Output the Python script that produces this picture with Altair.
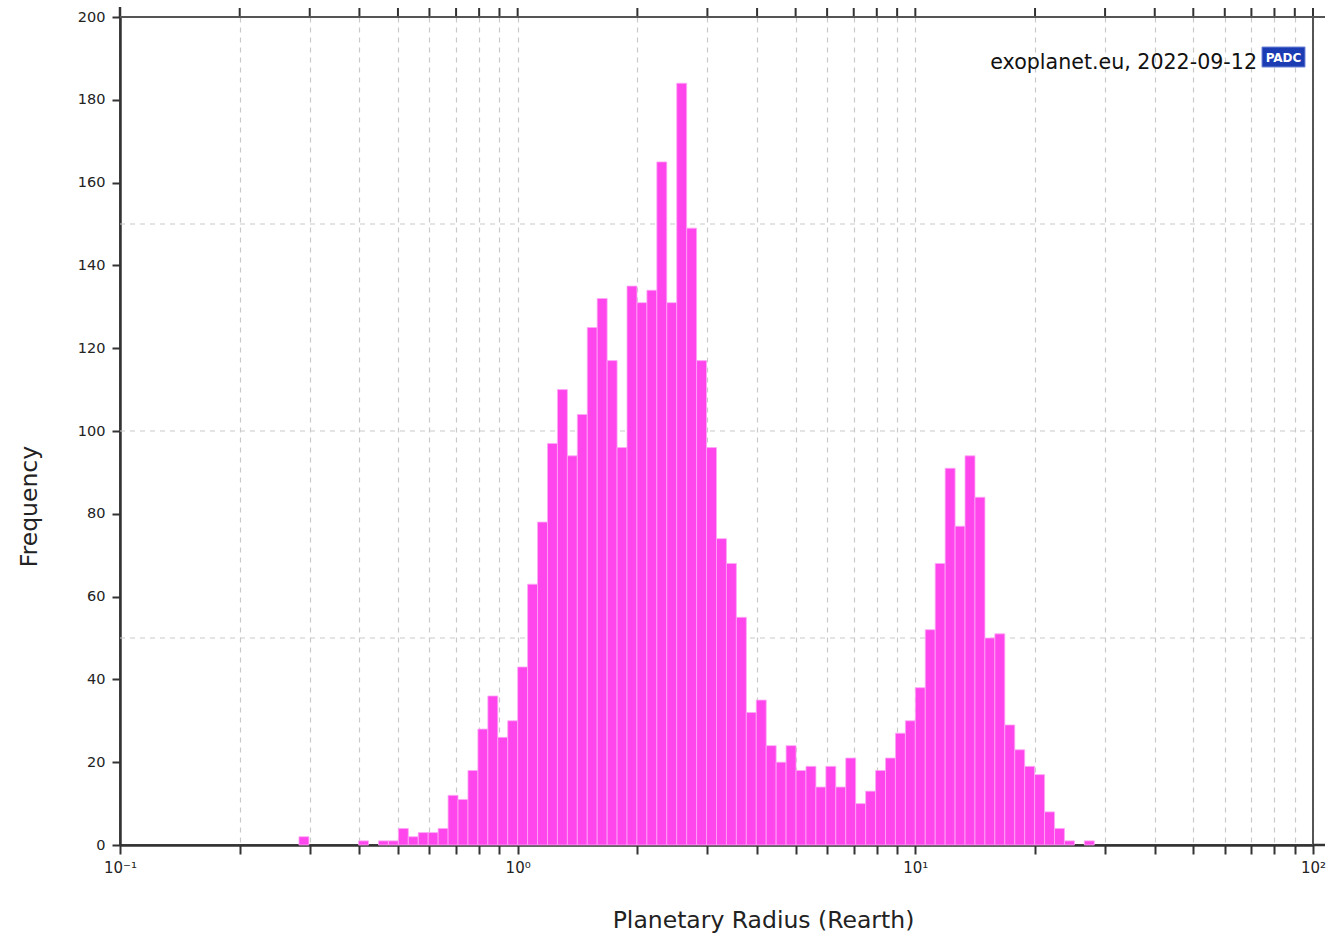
import altair as alt
import pandas as pd

# ---- data ----
# histogram bins: equal width in log10(R), edges at 10**(LOG_START + BIN_DEX*k)
LOG_START = -1.0
BIN_DEX = 0.025
bin_index = list(range(18, 98))
counts = [2, 0, 0, 0, 0, 0, 1, 0, 1, 1, 4, 2,
          3, 3, 4, 12, 11, 18, 28, 36, 26, 30,
          43, 63, 78, 97, 110, 94, 104, 125, 132, 117, 96, 135, 131, 134, 165, 131,
          184, 149, 117, 96, 74, 68,
          55, 32, 35, 24, 20, 24, 18, 19, 14, 19, 14, 21, 10, 13, 18, 21, 27, 30,
          38, 52, 68, 91, 77, 94, 84, 50, 51, 29, 23, 19, 17, 8, 4, 1, 0, 1]

x_ticks = [0.1, 0.2, 0.3, 0.4, 0.5, 0.6, 0.7, 0.8, 0.9,
           1, 2, 3, 4, 5, 6, 7, 8, 9,
           10, 20, 30, 40, 50, 60, 70, 80, 90, 100]
x_major = [0.1, 1, 10, 100]
x_major_labels = ["10⁻¹", "10⁰", "10¹", "10²"]
y_ticks = [0, 20, 40, 60, 80, 100, 120, 140, 160, 180, 200]
y_grid = [50, 100, 150]
x_title = "Planetary Radius (Rearth)"
y_title = "Frequency"
source_label = "exoplanet.eu, 2022-09-12"
logo_label = "PADC"

W, H = 1193, 828
FONT = "DejaVu Sans"
AX = "#333333"
GRID = "#c9c9c9"

lo = [10 ** (LOG_START + BIN_DEX * k) for k in bin_index]
hi = [10 ** (LOG_START + BIN_DEX * (k + 1)) for k in bin_index]
df = pd.DataFrame({"lo": lo, "hi": hi, "count": counts})
df = df[df["count"] > 0]

label_expr = " : ".join(
    f"datum.value == {v} ? '{t}'" for v, t in zip(x_major, x_major_labels)
) + " : ''"

scale_x = alt.Scale(type="log", domain=[0.1, 100], nice=False)
scale_y = alt.Scale(domain=[0, 200], nice=False)

x_axis = alt.Axis(
    values=x_ticks, labelExpr=label_expr,
    grid=True, gridDash=[5, 5], gridColor=GRID, gridWidth=1.2,
    domainColor=AX, domainWidth=2.5, tickColor=AX, tickWidth=2, tickSize=9,
    labelFont=FONT, labelFontSize=15, labelColor="#222", labelPadding=6,
    labelFlush=False, labelOverlap=False, labelBound=False,
    titleFont=FONT, titleFontSize=23.5, titleFontWeight="normal", titleColor="#222",
    titleX=643, titleY=82, titleAlign="center", titleBaseline="alphabetic")
y_axis = alt.Axis(
    values=y_ticks, grid=False,
    domainColor=AX, domainWidth=2.5, tickColor=AX, tickWidth=2, tickSize=8,
    labelFont=FONT, labelFontSize=14.5, labelColor="#222", labelPadding=7,
    labelOverlap=False, labelFlush=False, labelBound=False,
    titleFont=FONT, titleFontSize=23.5, titleFontWeight="normal", titleColor="#222",
    titleX=-84, titleY=489, titleAngle=270, titleAlign="center",
    titleBaseline="alphabetic")

bars = alt.Chart(df).mark_rect(
    fill="#ff46ec", stroke="#ffa8f6", strokeWidth=0.8
).encode(
    x=alt.X("lo:Q", scale=scale_x, axis=x_axis, title=x_title),
    x2="hi:Q",
    y=alt.Y("count:Q", scale=scale_y, axis=y_axis, title=y_title),
    y2=alt.datum(0),
)

hgrid = alt.Chart(pd.DataFrame({"g": y_grid})).mark_rule(
    color=GRID, strokeDash=[5, 5], strokeWidth=1.2
).encode(
    y=alt.Y("g:Q", scale=scale_y, title=y_title),
    x=alt.value(0), x2=alt.value(W),
)

top_ticks = alt.Chart(pd.DataFrame({"t": x_ticks})).mark_rule(
    color=AX, strokeWidth=2
).encode(
    x=alt.X("t:Q", scale=scale_x, title=x_title),
    y=alt.value(0), y2=alt.value(-9),
)

one = pd.DataFrame({"a": [0]})
frame_left = alt.Chart(one).mark_rule(color=AX, strokeWidth=2.5).encode(
    x=alt.value(0), x2=alt.value(0), y=alt.value(-10), y2=alt.value(0)
)
frame_right = alt.Chart(one).mark_rule(color="#555", strokeWidth=2).encode(
    x=alt.value(W), x2=alt.value(W), y=alt.value(0), y2=alt.value(H)
)
frame_top = alt.Chart(one).mark_rule(color="#555", strokeWidth=2).encode(
    x=alt.value(0), x2=alt.value(W + 12), y=alt.value(0), y2=alt.value(0)
)
frame_bottom = alt.Chart(one).mark_rule(color=AX, strokeWidth=2.5).encode(
    x=alt.value(W), x2=alt.value(W + 12), y=alt.value(H), y2=alt.value(H)
)

src = alt.Chart(pd.DataFrame({"s": [source_label]})).mark_text(
    font=FONT, fontSize=20.6, color="#111", align="right", baseline="alphabetic"
).encode(text="s:N", x=alt.value(1137), y=alt.value(52))

logo_box = alt.Chart(one).mark_rect(
    fill="#1c3cb4", stroke="#6f86d8", strokeWidth=1
).encode(x=alt.value(1142), x2=alt.value(1185), y=alt.value(30), y2=alt.value(50))

logo_txt = alt.Chart(pd.DataFrame({"s": [logo_label]})).mark_text(
    font=FONT, fontSize=12, fontWeight="bold", color="white", align="center",
    baseline="middle"
).encode(text="s:N", x=alt.value(1163.5), y=alt.value(40.5))

chart = alt.layer(
    hgrid, bars, top_ticks, frame_left, frame_right, frame_top, frame_bottom,
    src, logo_box, logo_txt
).properties(
    width=W, height=H,
    autosize=alt.AutoSizeParams(type="none"),
    padding={"left": 120, "top": 17, "right": 19, "bottom": 91},
    background="white",
).configure_view(stroke="#555555", strokeWidth=2)

chart.save("out.html", embed_options={"renderer": "svg", "actions": False})
